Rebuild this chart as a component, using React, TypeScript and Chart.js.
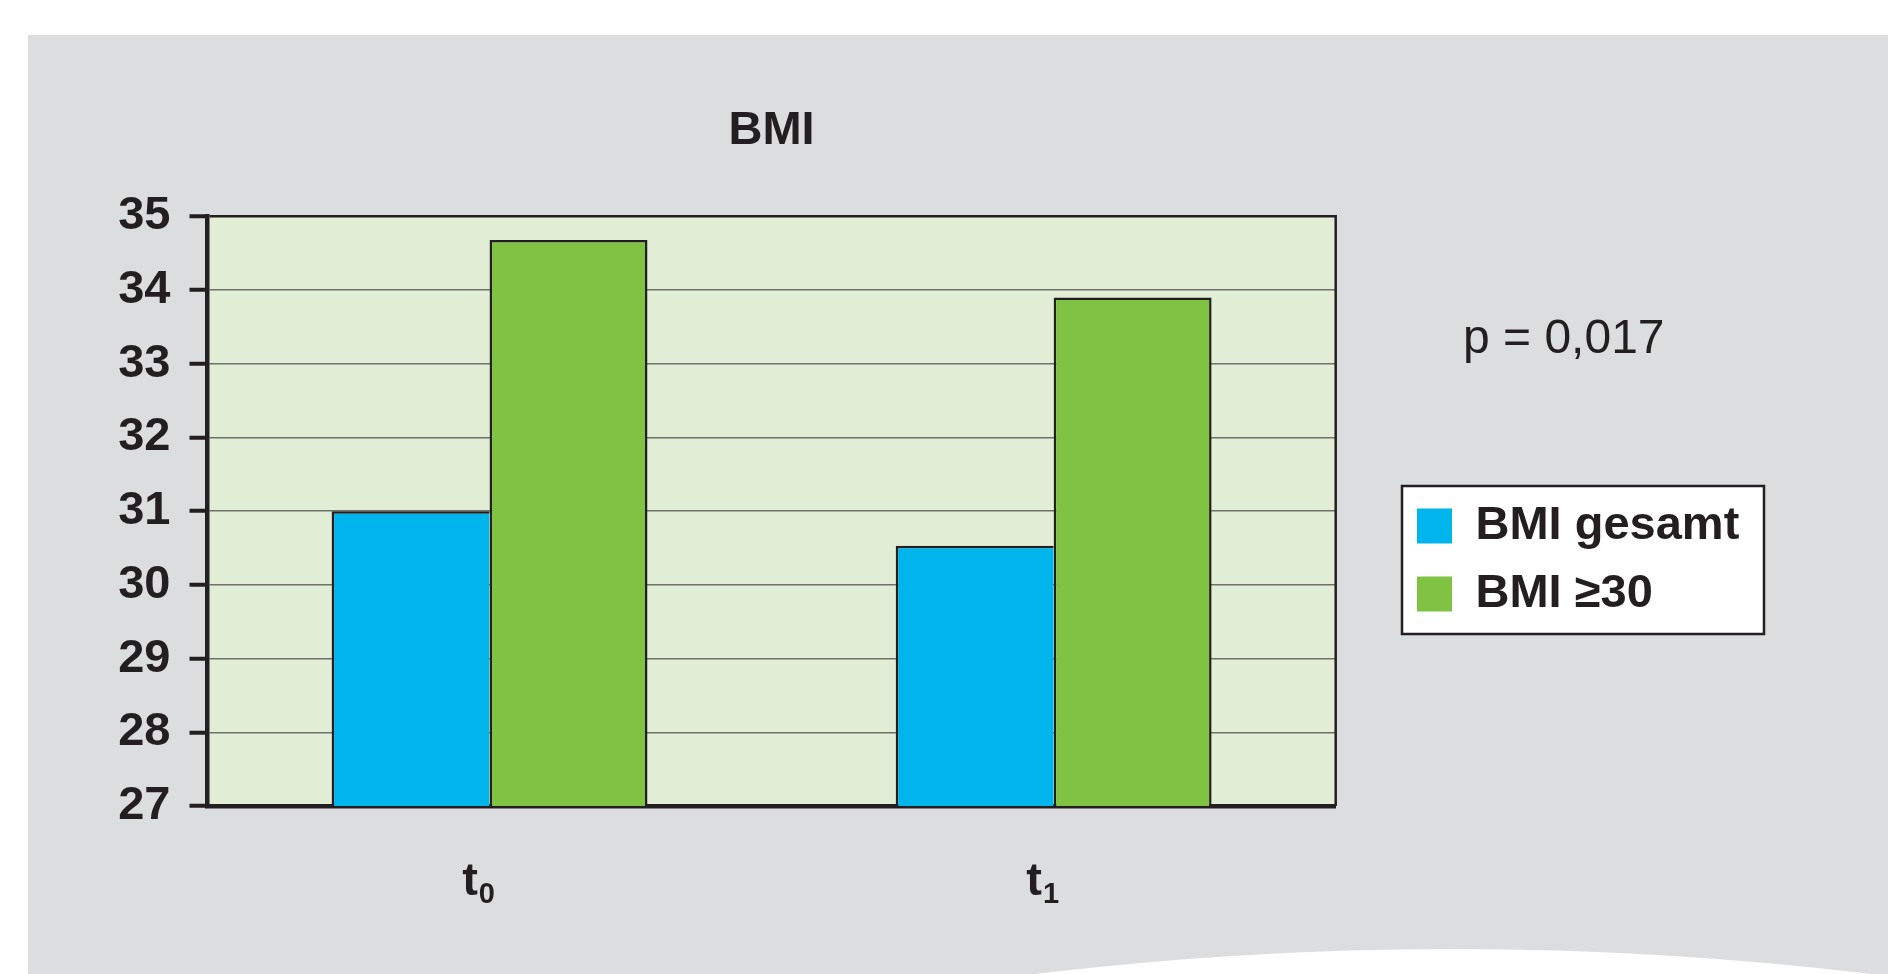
import React, { useEffect, useRef } from 'react';
import { Chart, registerables } from 'chart.js';

Chart.register(...registerables);

// ---- data ----
const TITLE = 'BMI';
const CATEGORY_BASES = ['t', 't'];
const CATEGORY_SUBSCRIPTS = ['0', '1'];
const CATEGORIES = CATEGORY_BASES.map((b, i) => b + CATEGORY_SUBSCRIPTS[i]);
const SERIES_NAMES = ['BMI gesamt', 'BMI ≥30'];
const BMI_GESAMT = [31.0, 30.53];
const BMI_OVER_30 = [34.68, 33.9];
const Y_MIN = 27;
const Y_MAX = 35;
const Y_STEP = 1;
const P_VALUE_TEXT = 'p = 0,017';

// ---- style ----
const INK = '#231f20';
const FONT = "'Liberation Sans', Arial, Helvetica, sans-serif";
const BLUE = '#00b4ec';
const GREEN = '#80c242';
const PANEL = '#dcdddf';
const PLOT_BG = '#e1eed5';
const W = 1888;
const H = 974;
const LEGEND_SLOT = 552.3;

const decorPlugin = {
  id: 'decor',
  beforeLayout(chart: any) {
    const lg = chart.legend;
    if (lg && !lg.__patched) {
      const orig = lg.fit.bind(lg);
      lg.fit = function () {
        orig();
        this.width = LEGEND_SLOT;
      };
      lg.__patched = true;
    }
  },
  beforeDraw(chart: any) {
    const { ctx, chartArea: a } = chart;
    ctx.save();
    ctx.fillStyle = '#ffffff';
    ctx.fillRect(0, 0, W, H);
    ctx.fillStyle = PANEL;
    ctx.fillRect(28, 35, W - 28, H - 35);
    // white swoosh at bottom right
    ctx.fillStyle = '#ffffff';
    ctx.beginPath();
    ctx.moveTo(1010, 980);
    ctx.lineTo(1035, 974);
    ctx.quadraticCurveTo(1460, 923, 1888, 976);
    ctx.lineTo(1890, 980);
    ctx.closePath();
    ctx.fill();
    // plot background
    ctx.fillStyle = PLOT_BG;
    ctx.fillRect(a.left, a.top, a.right - a.left, a.bottom - a.top);
    // legend frame
    ctx.fillStyle = '#ffffff';
    ctx.fillRect(1402, 486, 362, 148);
    ctx.strokeStyle = INK;
    ctx.lineWidth = 2.5;
    ctx.strokeRect(1402, 486, 362, 148);
    ctx.restore();
    const lg = chart.legend;
    if (lg) {
      lg.left = 1396;
      lg.right = 1764;
      lg.top = 456;
      lg.bottom = 664;
    }
  },
  afterDraw(chart: any) {
    const { ctx, chartArea: a } = chart;
    ctx.save();
    // right frame of plot
    ctx.strokeStyle = INK;
    ctx.lineWidth = 2.5;
    ctx.beginPath();
    ctx.moveTo(a.right, a.top - 1.25);
    ctx.lineTo(a.right, a.bottom);
    ctx.stroke();
    // category labels with subscripts, placed by the x scale
    const xs = chart.scales.x;
    ctx.fillStyle = INK;
    ctx.textAlign = 'left';
    ctx.textBaseline = 'alphabetic';
    CATEGORY_BASES.forEach((base, i) => {
      const sub = CATEGORY_SUBSCRIPTS[i];
      ctx.font = `bold 47px ${FONT}`;
      const wb = ctx.measureText(base).width;
      ctx.font = `bold 29px ${FONT}`;
      const ws = ctx.measureText(sub).width;
      const cx = xs.getPixelForTick(i) - 11;
      const start = cx - (wb + ws + 1) / 2;
      ctx.font = `bold 47px ${FONT}`;
      ctx.fillText(base, start, 895);
      ctx.font = `bold 29px ${FONT}`;
      ctx.fillText(sub, start + wb + 1, 903);
    });
    // p value
    ctx.font = `48px ${FONT}`;
    ctx.fillText(P_VALUE_TEXT, 1463, 353);
    ctx.restore();
  },
};

export default function App() {
  const ref = useRef<HTMLCanvasElement | null>(null);

  useEffect(() => {
    if (!ref.current) return;
    const chart = new Chart(ref.current, {
      type: 'bar',
      data: {
        labels: CATEGORIES,
        datasets: [
          {
            label: SERIES_NAMES[0],
            data: BMI_GESAMT,
            backgroundColor: BLUE,
            borderColor: INK,
            borderWidth: { top: 2.5, left: 2.5, right: 0, bottom: 0 },
            borderSkipped: false,
            barPercentage: 1,
            categoryPercentage: 0.56,
          },
          {
            label: SERIES_NAMES[1],
            data: BMI_OVER_30,
            backgroundColor: GREEN,
            borderColor: INK,
            borderWidth: { top: 2.5, left: 2.5, right: 2.5, bottom: 0 },
            borderSkipped: false,
            barPercentage: 1,
            categoryPercentage: 0.56,
          },
        ],
      },
      options: {
        responsive: false,
        animation: false,
        events: [],
        layout: { padding: { left: 0, top: 0, right: 0, bottom: 0 } },
        scales: {
          x: {
            z: 1,
            grid: { display: false },
            border: { display: true, color: INK, width: 4.5 },
            ticks: { display: false },
            afterFit(scale: any) {
              scale.height = H - 806;
            },
          },
          y: {
            min: Y_MIN,
            max: Y_MAX,
            border: { display: true, color: INK, width: 4.5 },
            grid: {
              color: (c: any) => (c.tick && c.tick.value === Y_MAX ? INK : '#6f706c'),
              lineWidth: (c: any) => (c.tick && c.tick.value === Y_MAX ? 2.5 : 1.5),
              drawTicks: true,
              tickLength: 18,
              tickWidth: 4,
              tickColor: INK,
            },
            ticks: {
              stepSize: Y_STEP,
              autoSkip: false,
              color: INK,
              padding: 19,
              font: { family: FONT, size: 47, weight: 'bold' },
            },
            afterFit(scale: any) {
              scale.width = 207.5;
            },
          },
        },
        plugins: {
          tooltip: { enabled: false },
          title: {
            display: true,
            text: TITLE,
            fullSize: false,
            color: INK,
            font: { family: FONT, size: 47, weight: 'bold' },
            padding: { top: 102.5, bottom: 57.4 },
          },
          legend: {
            display: true,
            position: 'right',
            align: 'center',
            labels: {
              color: INK,
              font: { family: FONT, size: 47, weight: 'bold' },
              boxWidth: 35,
              boxHeight: 35,
              padding: 21,
              generateLabels: (ch: any) =>
                Chart.defaults.plugins.legend.labels
                  .generateLabels(ch)
                  .map((l: any) => ({ ...l, lineWidth: 0, strokeStyle: 'rgba(0,0,0,0)' })),
            },
          },
        },
      },
      plugins: [decorPlugin],
    } as any);
    return () => chart.destroy();
  }, []);

  return (
    <div style={{ position: 'absolute', left: 0, top: 0, width: W, height: H }}>
      <canvas ref={ref} width={W} height={H} style={{ display: 'block', width: W, height: H }} />
    </div>
  );
}
